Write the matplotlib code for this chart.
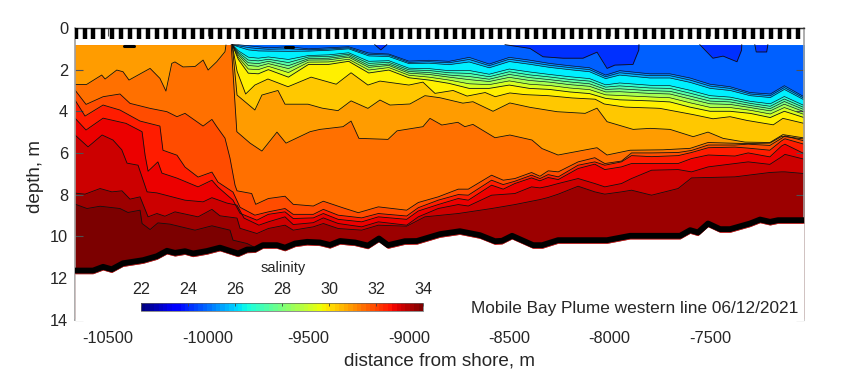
import matplotlib
matplotlib.use('Agg')
import matplotlib.pyplot as plt
from matplotlib.cm import ScalarMappable
from matplotlib.colors import Normalize

plt.rcParams['font.family'] = ['Liberation Sans', 'DejaVu Sans']
plt.rcParams['axes.unicode_minus'] = False

TEXT = '#262626'

# cast positions along the line, m
STATIONS = [-10660, -10615, -10571, -10526, -10480, -10436, -10391, -10346, -10301, -10256,
            -10211, -10167, -10121, -10076, -10031, -9986, -9941, -9896, -9851, -9806,
            -9761, -9716, -9671, -9626, -9581, -9536, -9491, -9446, -9401, -9356,
            -9311, -9266, -9221, -9176, -9131, -9086, -9041, -8996, -8951, -8906,
            -8861, -8816, -8771, -8726, -8681, -8636, -8591, -8546, -8501, -8456,
            -8411, -8366, -8321, -8276, -8231, -8186, -8141, -8096, -8051, -8006,
            -7961, -7916, -7871, -7826, -7781, -7736, -7691, -7646, -7601, -7556,
            -7511, -7466, -7421, -7376, -7331, -7286, -7241, -7196, -7151, -7106, -7061]

# bottom depth
BOTTOM_X = [-10663, -10573, -10523, -10480, -10424, -10324, -10255, -10205, -10165, -10115, -10075,
            -10005, -9941, -9851, -9806, -9767, -9727, -9657, -9617, -9567, -9507, -9443, -9393,
            -9343, -9268, -9204, -9149, -9104, -9020, -8960, -8845, -8746, -8646, -8571, -8536,
            -8486, -8381, -8336, -8257, -8013, -7898, -7649, -7599, -7560, -7510, -7450, -7400,
            -7301, -7251, -7201, -7161, -7032]
BOTTOM_D = [11.65, 11.65, 11.47, 11.59, 11.3, 11.15, 10.96, 10.7, 10.8, 10.72, 10.83,
            10.71, 10.55, 10.83, 10.64, 10.63, 10.43, 10.43, 10.55, 10.35, 10.27, 10.3, 10.42,
            10.23, 10.3, 10.45, 10.11, 10.43, 10.24, 10.23, 9.9, 9.76, 9.95, 10.24, 10.22,
            9.98, 10.43, 10.43, 10.19, 10.19, 9.98, 9.98, 9.71, 9.82, 9.39, 9.66, 9.66,
            9.39, 9.2, 9.31, 9.23, 9.23]

TOP_D = 0.8

# fresher side of the front, isohalines above the plume core
LEFT_X = [-10663, -10605, -10530, -10513, -10455, -10424, -10394, -10289, -10240, -10210, -10181,
          -10165, -10125, -10065, -10025, -10000, -9957, -9916, -9911]
LEFT_D = [2.71, 2.71, 2.26, 2.45, 2.02, 2.1, 2.5, 1.94, 2.42, 3.03, 1.7,
          1.63, 1.87, 1.85, 1.54, 2.02, 1.62, 1.14, 0.82]

# plume side
O_X = [-9885, -9857, -9791, -9732, -9657, -9612, -9492, -9443, -9328, -9288, -9249, -9104, -9059,
       -8930, -8895, -8836, -8756, -8721, -8681, -8571, -8497, -8387, -8337, -8257, -8063, -8013,
       -7898, -7734, -7599, -7510, -7326, -7202, -7142, -7032]
O_D = [0.8, 4.98, 5.53, 5.91, 5.0, 5.53, 4.98, 4.87, 4.74, 4.47, 5.3, 5.35, 4.94,
       4.74, 4.34, 4.66, 4.53, 4.74, 4.63, 5.27, 5.14, 5.38, 5.79, 6.1, 5.75, 6.1,
       5.87, 5.85, 5.78, 5.5, 5.55, 5.53, 5.2, 5.33]

G_X = [-9880, -9856, -9767, -9732, -9652, -9617, -9502, -9432, -9353, -9288, -9204, -9144, -9094,
       -8995, -8920, -8845, -8731, -8681, -8581, -8497, -8397, -8262, -8122, -8063, -8013, -7883,
       -7798, -7699, -7584, -7510, -7435, -7326, -7202, -7137, -7032]
G_D = [0.8, 3.22, 3.94, 3.22, 3.0, 3.66, 3.66, 3.85, 3.97, 3.5, 3.86, 3.46, 3.7,
       3.65, 3.25, 3.35, 3.61, 3.54, 4.0, 3.6, 3.81, 4.02, 4.1, 3.85, 4.5, 4.87,
       4.82, 4.87, 5.22, 5.0, 5.3, 5.48, 5.5, 5.12, 5.28]

Y2_X = [-9880, -9856, -9813, -9767, -9702, -9602, -9487, -9362, -9288, -9204, -9144, -9000, -8930,
        -8870, -8780, -8710, -8620, -8570, -8497, -8422, -8307, -8187, -8072, -8027, -7922, -7772,
        -7750, -7584, -7485, -7400, -7316, -7185, -7137, -7032]
Y2_D = [0.8, 2.07, 3.17, 2.74, 2.45, 2.82, 2.36, 2.7, 2.15, 2.74, 2.55, 2.74, 2.6,
        3.14, 3.0, 3.27, 3.1, 3.3, 3.12, 3.2, 3.25, 3.36, 3.42, 3.65, 3.8, 3.85,
        3.86, 4.16, 4.36, 4.26, 4.44, 4.65, 4.34, 4.58]

CLINE_X = [-9880, -9850, -9800, -9750, -9700, -9600, -9500, -9400, -9300, -9200, -9100, -9000,
           -8900, -8800, -8700, -8600, -8500, -8400, -8300, -8200, -8100, -8020, -7950, -7800,
           -7700, -7600, -7500, -7400, -7300, -7200, -7130, -7032]
Y1_D = [0.8, 1.5, 2.17, 2.2, 2.0, 2.36, 1.75, 1.75, 1.6, 2.16, 2.02, 2.39,
        2.5, 2.66, 2.9, 2.9, 2.74, 2.9, 2.95, 3.07, 3.15, 3.38, 3.45, 3.5,
        3.55, 3.8, 4.0, 4.0, 4.1, 4.3, 4.0, 4.3]
C8_D = [0.8, 1.4, 1.97, 2.0, 1.84, 2.14, 1.64, 1.63, 1.5, 2.02, 1.9, 2.27,
        2.36, 2.5, 2.68, 2.72, 2.54, 2.7, 2.76, 2.88, 2.96, 3.21, 3.24, 3.31,
        3.35, 3.59, 3.81, 3.82, 3.95, 4.13, 3.82, 4.15]
C7_D = [0.8, 1.3, 1.8, 1.84, 1.71, 1.95, 1.54, 1.53, 1.4, 1.89, 1.8, 2.17,
        2.23, 2.36, 2.48, 2.57, 2.37, 2.52, 2.6, 2.72, 2.8, 3.07, 3.06, 3.14,
        3.17, 3.41, 3.64, 3.67, 3.82, 3.98, 3.66, 4.02]
C6_D = [0.8, 1.23, 1.67, 1.71, 1.6, 1.81, 1.47, 1.45, 1.33, 1.8, 1.73, 2.09,
        2.14, 2.26, 2.33, 2.46, 2.23, 2.38, 2.48, 2.59, 2.68, 2.95, 2.92, 3.01,
        3.04, 3.27, 3.51, 3.55, 3.72, 3.87, 3.53, 3.92]
C5_D = [0.8, 1.16, 1.54, 1.58, 1.5, 1.66, 1.39, 1.37, 1.26, 1.7, 1.65, 2.01,
        2.04, 2.15, 2.18, 2.34, 2.1, 2.25, 2.35, 2.47, 2.55, 2.84, 2.78, 2.88,
        2.9, 3.13, 3.38, 3.43, 3.62, 3.76, 3.41, 3.82]
C4_D = [0.8, 1.09, 1.4, 1.45, 1.39, 1.51, 1.32, 1.29, 1.19, 1.6, 1.57, 1.93,
        1.95, 2.05, 2.04, 2.22, 1.97, 2.11, 2.23, 2.34, 2.43, 2.73, 2.64, 2.75,
        2.77, 2.99, 3.25, 3.32, 3.52, 3.64, 3.29, 3.72]
C3_D = [0.8, 0.9, 1.05, 1.1, 1.11, 1.12, 1.11, 1.07, 1.0, 1.34, 1.37, 1.71,
        1.69, 1.76, 1.63, 1.91, 1.61, 1.74, 1.89, 2.0, 2.1, 2.43, 2.26, 2.4,
        2.4, 2.61, 2.9, 3.0, 3.25, 3.34, 2.95, 3.45]
C2_D = [0.8, 0.85, 0.94, 0.99, 1.02, 1.0, 1.05, 1.01, 0.95, 1.27, 1.3, 1.65,
        1.62, 1.67, 1.51, 1.81, 1.5, 1.64, 1.79, 1.9, 2.0, 2.34, 2.15, 2.29,
        2.29, 2.5, 2.79, 2.9, 3.17, 3.25, 2.86, 3.37]
A_D = [0.8, 0.8, 0.85, 0.9, 0.95, 0.9, 1.0, 0.95, 0.9, 1.2, 1.25, 1.59,
       1.55, 1.6, 1.41, 1.73, 1.41, 1.54, 1.7, 1.81, 1.91, 2.26, 2.05, 2.2,
       2.2, 2.4, 2.7, 2.82, 3.1, 3.17, 2.77, 3.3]

# freshest patches at the surface
PATCH1_X = [-8521, -8397, -8332, -8232, -8133, -8063, -8013, -7974, -7884, -7855, -7854]
PATCH1_D = [0.8, 0.98, 1.38, 1.45, 1.45, 1.16, 1.94, 1.78, 1.75, 1.06, 0.8]
PATCH2_X = [-7551, -7486, -7435, -7366, -7343, -7342]
PATCH2_D = [0.8, 1.45, 1.35, 1.62, 1.06, 0.8]
PATCH3_X = [-7277, -7270, -7218, -7212]
PATCH3_D = [0.8, 1.15, 1.15, 0.8]
PATCH4_X = [-9170, -9140, -9110]
PATCH4_D = [0.8, 1.05, 0.8]

# saltier isohalines near the bottom
X3 = [-8472, -8389, -8347, -8306, -8256, -8157, -8074, -8024, -7941, -7891, -7791, -7659, -7592,
      -7509, -7376, -7310, -7202, -7144, -7127, -7032]

L2_X = [-10663, -10608, -10523, -10439, -10389, -10289, -10205, -10155, -10115, -10025, -9981,
        -9956, -9916, -9891, -9866, -9856, -9783, -9763, -9700, -9617, -9576, -9476, -9426, -9327,
        -9252, -9152, -9011, -8953, -8854, -8754, -8704, -8588, -8530] + X3
L2_D = [2.98, 3.67, 3.3, 3.17, 3.62, 3.86, 4.02, 4.26, 4.1, 4.71, 4.39,
        4.75, 5.29, 6.25, 7.55, 7.82, 7.95, 8.47, 8.19, 8.08, 8.47, 8.55, 8.32, 8.64,
        8.87, 8.59, 8.75, 8.38, 8.11, 7.74, 7.74, 7.07, 7.31,
        7.23, 6.94, 7.12, 6.86, 6.91, 6.43, 6.23, 6.51, 6.39, 6.0, 6.0, 5.98, 5.88,
        5.62, 5.62, 5.58, 5.64, 5.3, 5.18, 5.42]

L3_X = [-10663, -10613, -10523, -10439, -10339, -10240, -10225, -10155, -10115, -10050, -9981,
        -9951, -9876, -9841, -9767, -9700, -9617, -9576, -9476, -9426, -9352, -9235, -9152, -9011,
        -8953, -8854, -8754, -8704, -8588, -8530] + X3
L3_D = [3.46, 4.23, 3.7, 3.94, 4.47, 4.71, 5.87, 6.11, 6.68, 7.16, 6.92,
        7.4, 7.88, 8.61, 8.99, 8.83, 8.67, 8.95, 8.95, 8.71, 8.99, 9.12, 8.91, 9.03,
        8.63, 8.27, 8.0, 8.03, 7.31, 7.52,
        7.36, 7.07, 7.23, 7.04, 7.15, 6.59, 6.43, 6.59, 6.43, 6.13, 6.18, 6.13, 5.98,
        5.75, 5.72, 5.77, 5.87, 5.42, 5.32, 5.58]

L4_X = [-10663, -10608, -10523, -10409, -10329, -10314, -10299, -10250, -10230, -10155, -10050,
        -9981, -9951, -9876, -9841, -9757, -9700, -9617, -9576, -9476, -9426, -9352, -9235, -9152,
        -9011, -8953, -8854, -8754, -8704, -8588, -8530] + X3
L4_D = [4.33, 4.9, 4.33, 4.58, 4.98, 6.11, 6.88, 6.43, 6.97, 7.21, 7.63,
        7.31, 7.64, 8.27, 8.9, 9.23, 8.95, 8.83, 9.15, 9.12, 8.91, 9.19, 9.31, 9.07,
        9.19, 8.79, 8.48, 8.19, 8.27, 7.55, 7.74,
        7.47, 7.2, 7.34, 7.18, 7.28, 6.75, 6.54, 6.8, 6.67, 6.51, 6.51, 6.51, 6.27,
        6.1, 6.15, 6.0, 6.19, 5.67, 5.58, 6.03]

L5_X = [-10663, -10598, -10528, -10474, -10430, -10404, -10349, -10304, -10255, -10115, -10025,
        -9981, -9906, -9856, -9821, -9747, -9700, -9617, -9576, -9476, -9426, -9352, -9235, -9152,
        -9011, -8953, -8854, -8754, -8704, -8588] + X3
L5_D = [5.14, 5.71, 5.14, 5.38, 5.85, 6.49, 6.59, 7.87, 7.92, 8.27, 8.35,
        8.15, 8.41, 8.51, 9.13, 9.47, 9.31, 9.07, 9.44, 9.35, 9.12, 9.39, 9.55, 9.31,
        9.47, 9.07, 8.67, 8.48, 8.55, 8.03,
        7.95, 7.63, 7.68, 7.6, 7.47, 7.23, 7.47, 7.63, 7.47, 7.23, 6.83, 6.8, 6.91,
        6.67, 6.51, 6.43, 6.55, 6.19, 6.07, 6.3]

L6_X = [-10663, -10613, -10538, -10479, -10429, -10389, -10339, -10299, -10255, -10215, -10165,
        -10050, -9981, -9941, -9856, -9841, -9757, -9700, -9617, -9576, -9476, -9426, -9352, -9235,
        -9152, -9011, -8920, -8754, -8588] + X3
L6_D = [7.93, 7.98, 7.71, 7.87, 7.82, 8.22, 8.11, 9.07, 8.91, 9.04, 8.83,
        9.07, 8.71, 9.02, 9.13, 9.62, 9.87, 9.63, 9.47, 9.71, 9.55, 9.39, 9.63, 9.71,
        9.47, 9.52, 9.07, 8.91, 8.67,
        8.48, 8.32, 8.24, 8.14, 7.98, 7.6, 7.87, 7.98, 7.87, 7.79, 8.03, 7.71, 7.2,
        7.18, 7.15, 7.07, 6.94, 6.91, 6.91, 6.99]

L7_X = [-10663, -10603, -10538, -10439, -10399, -10339, -10329, -10289, -10250, -10190, -10065,
        -9981, -9891, -9876, -9806, -9755]
L7_D = [8.46, 8.67, 8.56, 8.67, 8.86, 8.75, 9.39, 9.68, 9.36, 9.42, 9.71,
        9.5, 9.71, 10.19, 10.35, 10.6]

XTICKS = [-10500, -10000, -9500, -9000, -8500, -8000, -7500]
YTICKS = [0, 2, 4, 6, 8, 10, 12, 14]
CBAR_TICKS = [22, 24, 26, 28, 30, 32, 34]


def band_above(ax, x, d, color, lw=0.6):
    ax.fill_between(x, TOP_D, d, color=color, lw=0)
    ax.plot(x, d, color='#101010', lw=lw)


def band_below(ax, x, d, color):
    ax.fill_between(x, d, 14, color=color, lw=0)
    ax.plot(x, d, color='#101010', lw=0.6)


fig = plt.figure(figsize=(8.41, 3.75), dpi=100)
ax = fig.add_axes([75 / 841, 1 - 319.5 / 375, 729 / 841, 291.5 / 375])

# core water
ax.fill_between([-10663, -7032], TOP_D, 14, color='#ff7000', lw=0)
band_above(ax, LEFT_X, LEFT_D, '#ff9c00')

band_above(ax, O_X, O_D, '#ff9c00')
band_above(ax, G_X, G_D, '#ffc800')
band_above(ax, Y2_X, Y2_D, '#fff000')
band_above(ax, CLINE_X, Y1_D, '#d8ff20')
band_above(ax, CLINE_X, C8_D, '#a8ff50', lw=0.45)
band_above(ax, CLINE_X, C7_D, '#80ff80', lw=0.45)
band_above(ax, CLINE_X, C6_D, '#58ffa8', lw=0.45)
band_above(ax, CLINE_X, C5_D, '#30ffd0', lw=0.45)
band_above(ax, CLINE_X, C4_D, '#00f0ff', lw=0.45)
band_above(ax, CLINE_X, C3_D, '#00b8ff', lw=0.45)
band_above(ax, CLINE_X, C2_D, '#0090ff', lw=0.45)
band_above(ax, CLINE_X, A_D, '#0060ff', lw=0.45)
band_above(ax, PATCH1_X, PATCH1_D, '#0030ff')
band_above(ax, PATCH2_X, PATCH2_D, '#0030ff')
band_above(ax, PATCH3_X, PATCH3_D, '#0030ff')
band_above(ax, PATCH4_X, PATCH4_D, '#0030ff')

band_below(ax, L2_X, L2_D, '#ff4c00')
band_below(ax, L3_X, L3_D, '#ff1c00')
band_below(ax, L4_X, L4_D, '#ec0000')
band_below(ax, L5_X, L5_D, '#cc0000')
band_below(ax, L6_X, L6_D, '#9c0000')
band_below(ax, L7_X, L7_D, '#7c0000')

# small closed contours at the surface
ax.plot([-10420, -10370], [0.86, 0.86], color='k', lw=2.2, solid_capstyle='round')
ax.plot([-9615, -9575], [0.92, 0.92], color='k', lw=2.2, solid_capstyle='round')

# below the sea bed
lower = [d + 0.15 for d in BOTTOM_D]
ax.fill_between(BOTTOM_X, lower, 14.2, color='white', lw=0, zorder=5)
ax.plot(BOTTOM_X, lower, color='#d03030', lw=0.7, zorder=5)
ax.plot(BOTTOM_X, BOTTOM_D, color='k', lw=4.2, zorder=6, solid_joinstyle='round')

# casts
ax.vlines(STATIONS, 0, 0.55, color='k', lw=3.2, zorder=6)

ax.set_xlim(-10663, -7032)
ax.set_ylim(14, 0)
ax.set_xticks(XTICKS)
ax.set_yticks(YTICKS)
ax.tick_params(direction='in', length=5.8, width=0.8, color='#505050', top=True, right=True,
               labelsize=11.8, labelcolor=TEXT, zorder=7)
ax.tick_params(axis='x', pad=8)
ax.tick_params(axis='y', pad=5)
for side in ['left', 'right', 'bottom']:
    ax.spines[side].set_color('#a0a0a0')
    ax.spines[side].set_linewidth(1.2)
ax.spines['top'].set_color('#303030')
ax.spines['top'].set_linewidth(1.0)

fig.text(440 / 841, 1 - 361.5 / 375, 'distance from shore, m', fontsize=13.6, color=TEXT,
         ha='center', va='center')
fig.text(35 / 841, 1 - 176 / 375, 'depth, m', fontsize=13.6, color=TEXT, rotation=90,
         ha='center', va='center')
fig.text(798 / 841, 1 - 308 / 375, 'Mobile Bay Plume western line 06/12/2021', fontsize=12.4,
         color=TEXT, ha='right', va='center')
fig.text(283 / 841, 1 - 268 / 375, 'salinity', fontsize=10.5, color=TEXT, ha='center', va='center')

cax = fig.add_axes([141 / 841, 1 - 311 / 375, 282 / 841, 8 / 375])
sm = ScalarMappable(norm=Normalize(22, 34), cmap=plt.get_cmap('jet', 64))
cb = fig.colorbar(sm, cax=cax, orientation='horizontal', ticklocation='top')
cb.set_ticks(CBAR_TICKS)
cb.ax.tick_params(direction='in', length=2, width=0.6, color='#404040', labelsize=11.6,
                  labelcolor=TEXT, pad=4)
cb.outline.set_linewidth(0.5)
cb.outline.set_edgecolor('#606060')

fig.savefig('out.png', dpi=100)
